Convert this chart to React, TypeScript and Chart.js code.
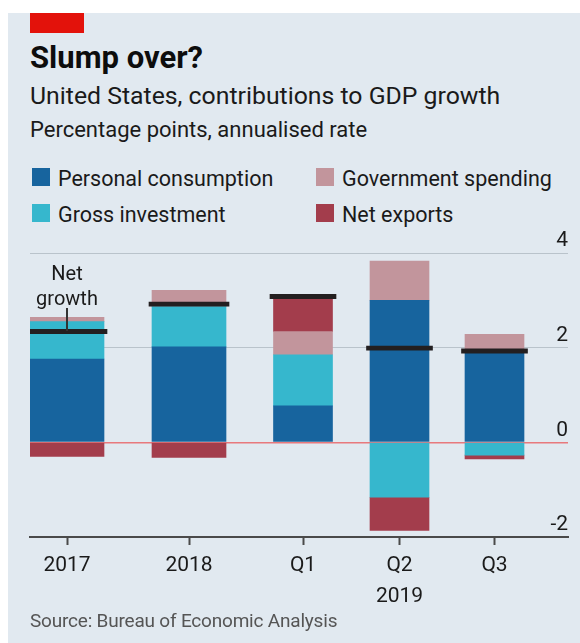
import React, { useEffect, useRef } from "react";
import { Chart, registerables } from "chart.js";

Chart.register(...registerables);

// ---- data ----
const categories = ["2017", "2018", "Q1", "Q2", "Q3"];
const yearLine = ["", "", "", "2019", ""];
const isAnnual = [true, true, false, false, false];
const personalConsumption = [1.76, 2.02, 0.77, 3.0, 1.93];
const grossInvestment = [0.79, 0.85, 1.08, -1.16, -0.27];
const governmentSpending = [0.09, 0.34, 0.49, 0.83, 0.35];
const netExports = [-0.3, -0.32, 0.73, -0.7, -0.08];
const netGrowth = [2.34, 2.92, 3.08, 1.99, 1.93];
const yTicks = [-2, 0, 2, 4];

// ---- layout / style ----
const xSlots = [0.37, 1.59, 2.73, 3.695, 4.645];
const X_MIN = 0;
const X_MAX = 5.38;
const NET_HALF = 0.045;
const FONT = "Roboto, 'Noto Sans', sans-serif";
const PANEL = "#e1e9f0";
const TEXT = "#1a1a1a";

const series = [
  { label: "Personal consumption", values: personalConsumption, color: "#17649e" },
  { label: "Gross investment", values: grossInvestment, color: "#36b7cd" },
  { label: "Government spending", values: governmentSpending, color: "#c2959c" },
  { label: "Net exports", values: netExports, color: "#a33d4c" },
];

const groups = [
  { annual: true, thickness: 74, netThickness: 80 },
  { annual: false, thickness: 59, netThickness: 66 },
];

function buildDatasets() {
  const ds: any[] = [];
  for (const g of groups) {
    const idx = categories.map((_, i) => i).filter((i) => isAnnual[i] === g.annual);
    for (const s of series) {
      ds.push({
        type: "bar",
        label: s.label,
        data: idx.map((i) => ({ x: xSlots[i], y: s.values[i] })),
        backgroundColor: s.color,
        borderWidth: 0,
        barThickness: g.thickness,
        stack: "c",
        yAxisID: "y",
      });
    }
    ds.push({
      type: "bar",
      label: "Net growth",
      data: idx.map((i) => ({ x: xSlots[i], y: [netGrowth[i] - NET_HALF, netGrowth[i] + NET_HALF] })),
      backgroundColor: "#231f20",
      borderWidth: 0,
      grouped: false,
      barPercentage: 1,
      categoryPercentage: 1,
      maxBarThickness: g.netThickness,
      yAxisID: "yNet",
      order: -1,
    });
  }
  return ds;
}

function ChartCanvas() {
  const ref = useRef<HTMLCanvasElement>(null);
  useEffect(() => {
    if (!ref.current) return;
    const chart = new Chart(ref.current, {
      type: "bar",
      data: { datasets: buildDatasets() },
      options: {
        animation: false,
        responsive: false,
        devicePixelRatio: 1,
        layout: { padding: { left: 30, right: 12, top: 23, bottom: 0 } },
        plugins: { legend: { display: false }, tooltip: { enabled: false }, title: { display: false } },
        scales: {
          x: {
            type: "linear",
            position: "bottom",
            min: X_MIN,
            max: X_MAX,
            offset: false,
            afterBuildTicks: (scale: any) => {
              scale.ticks = xSlots.map((v) => ({ value: v }));
            },
            afterFit: (scale: any) => {
              scale.height = 106;
            },
            ticks: {
              autoSkip: false,
              maxRotation: 0,
              minRotation: 0,
              padding: 6,
              color: TEXT,
              font: { family: FONT, size: 21, lineHeight: 1.45 },
              callback: (_v: any, i: number) =>
                yearLine[i] ? [categories[i], yearLine[i]] : categories[i],
            },
            grid: {
              display: true,
              offset: false,
              drawOnChartArea: false,
              drawTicks: true,
              tickLength: 8,
              tickColor: "#4a4a4a",
              tickWidth: 2,
            },
            border: { display: true, color: "#4a4a4a", width: 2 },
          },
          y: {
            type: "linear",
            position: "right",
            min: -2,
            max: 4,
            stacked: true,
            afterBuildTicks: (scale: any) => {
              scale.ticks = yTicks.map((v) => ({ value: v }));
            },
            afterFit: (scale: any) => {
              scale.width = 0;
            },
            ticks: {
              mirror: true,
              padding: 0,
              labelOffset: -12,
              color: TEXT,
              font: { family: FONT, size: 21 },
              callback: (v: any) => String(v),
            },
            grid: {
              drawTicks: false,
              color: (ctx: any) =>
                ctx.tick && ctx.tick.value === 0
                  ? "#e8797c"
                  : ctx.tick && ctx.tick.value === -2
                  ? "rgba(0,0,0,0)"
                  : "#b9c3cb",
              lineWidth: (ctx: any) => (ctx.tick && ctx.tick.value === 0 ? 1.6 : 1),
            },
            border: { display: false },
          },
          yNet: {
            type: "linear",
            display: false,
            min: -2,
            max: 4,
            stacked: false,
          },
        },
      } as any,
    });
    return () => chart.destroy();
  }, []);
  return (
    <canvas
      ref={ref}
      width={580}
      height={413}
      style={{ position: "absolute", left: 0, top: 230, width: 580, height: 413 }}
    />
  );
}

const abs = (left: number, top: number, extra: any = {}) => ({
  position: "absolute" as const,
  left,
  top,
  fontFamily: FONT,
  lineHeight: 1,
  whiteSpace: "nowrap" as const,
  color: TEXT,
  ...extra,
});

function LegendItem({ left, top, color, label }: any) {
  return (
    <>
      <div style={{ position: "absolute", left, top, width: 18, height: 18, background: color }} />
      <div style={abs(left + 26, top - 0.3, { fontSize: 21.5 })}>{label}</div>
    </>
  );
}

export default function App() {
  return (
    <div>
      <div style={{ position: "absolute", left: 8, top: 13, width: 572, height: 630, background: PANEL }} />
      <div style={{ position: "absolute", left: 30, top: 13, width: 54, height: 20, background: "#e3120b" }} />
      <div style={abs(30, 42, { fontSize: 31, fontWeight: 700, color: "#0d0d0d" })}>Slump over?</div>
      <div style={abs(30, 84, { fontSize: 24.8 })}>United States, contributions to GDP growth</div>
      <div style={abs(30, 118.5, { fontSize: 22 })}>Percentage points, annualised rate</div>
      <LegendItem left={32} top={168} color={series[0].color} label={series[0].label} />
      <LegendItem left={316} top={168} color={series[2].color} label={series[2].label} />
      <LegendItem left={32} top={204} color={series[1].color} label={series[1].label} />
      <LegendItem left={316} top={204} color={series[3].color} label={series[3].label} />
      <ChartCanvas />
      <div style={abs(17, 261, { fontSize: 20, width: 100, textAlign: "center", lineHeight: "25px" })}>
        Net
        <br />
        growth
      </div>
      <div style={{ position: "absolute", left: 66.25, top: 308, width: 1.5, height: 23, background: "#333" }} />
      <div style={abs(30, 611, { fontSize: 19, letterSpacing: -0.2, color: "#555" })}>
        Source: Bureau of Economic Analysis
      </div>
    </div>
  );
}
